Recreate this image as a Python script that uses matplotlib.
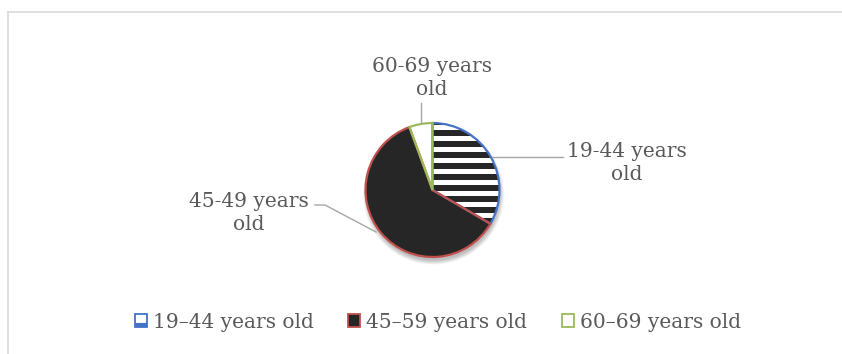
"""
Age group share pie chart with Excel-like styling.
"""

import numpy as np
import matplotlib
matplotlib.use('Agg')
import matplotlib.pyplot as plt
from matplotlib.patches import Patch, Circle, Rectangle, Wedge

# data
legend_labels = ['19\u201344 years old', '45\u201359 years old', '60\u201369 years old']
slice_labels = ['19-44 years\nold', '45-49 years\nold', '60-69 years\nold']
shares = [33.4, 61.0, 5.6]

edge_colors = ['#4472C4', '#C0504D', '#9BBB59']
fill_colors = ['white', '#262626', 'white']
text_color = '#595959'
leader_color = '#A6A6A6'

W, H = 842, 354
plt.rcParams['font.family'] = ['DejaVu Serif']


def py(y):
    """pixel row (from top) -> data y"""
    return H - y


fig = plt.figure(figsize=(W / 100, H / 100), dpi=100)
ax = fig.add_axes([0, 0, 1, 1])

cx, cy, r = 432.5, py(190), 67

# soft shadow under the pie
for i in range(7):
    ax.add_patch(Circle((cx + 1, cy - 4), r + 3.5 - i * 0.7,
                        color='black', alpha=0.04, lw=0, zorder=1))

wedges, _ = ax.pie(shares, center=(cx, cy), radius=r, startangle=90,
                   counterclock=False, colors=fill_colors,
                   wedgeprops=dict(linewidth=0))
for w in wedges:
    w.set_zorder(2)

# horizontal stripes in the first slice
stripe_ys = np.arange(cy - r, cy + r, 11)
for y in stripe_ys:
    rect = Rectangle((cx - 2, y), r + 4, 6, color='#262626', lw=0, zorder=3)
    ax.add_patch(rect)
    rect.set_clip_path(wedges[0])

# slice outlines on top
for w, ec in zip(wedges, edge_colors):
    ax.add_patch(Wedge(w.center, w.r, w.theta1, w.theta2, fill=False,
                       edgecolor=ec, lw=1.6, zorder=4))

# leader lines + data labels
ax.plot([421, 421], [py(103), py(123)], color=leader_color, lw=1, zorder=5)
ax.plot([492, 563], [py(157), py(157)], color=leader_color, lw=1, zorder=5)
ax.plot([315, 325, 376], [py(205), py(205), py(232)], color=leader_color, lw=1, zorder=5)

label_pos = [(627, 163), (249, 213), (432, 78)]
for (x, y), txt in zip(label_pos, slice_labels):
    ax.text(x, py(y), txt, ha='center', va='center', multialignment='center',
            fontsize=14.5, color=text_color, linespacing=1.3)

# chart frame (top and left edges visible)
ax.plot([8, W], [py(12), py(12)], color='#D9D9D9', lw=1.2)
ax.plot([8, 8], [py(12), 0], color='#D9D9D9', lw=1.2)

ax.set_xlim(0, W)
ax.set_ylim(0, H)
ax.set_aspect('auto')
ax.axis('off')

plt.rcParams['hatch.linewidth'] = 3
handles = [Patch(facecolor=fc, edgecolor=ec, lw=1.3) for fc, ec in zip(fill_colors, edge_colors)]
handles[0].set_hatch('-')
fig.legend(handles, legend_labels, loc='center', bbox_to_anchor=(438 / W, 1 - 322 / H),
           ncol=3, frameon=False, handlelength=0.6, handleheight=0.6,
           handletextpad=0.3, columnspacing=1.7,
           prop=dict(size=14.5), labelcolor=text_color)

plt.savefig('out.png', dpi=100, facecolor='white')
plt.close()
